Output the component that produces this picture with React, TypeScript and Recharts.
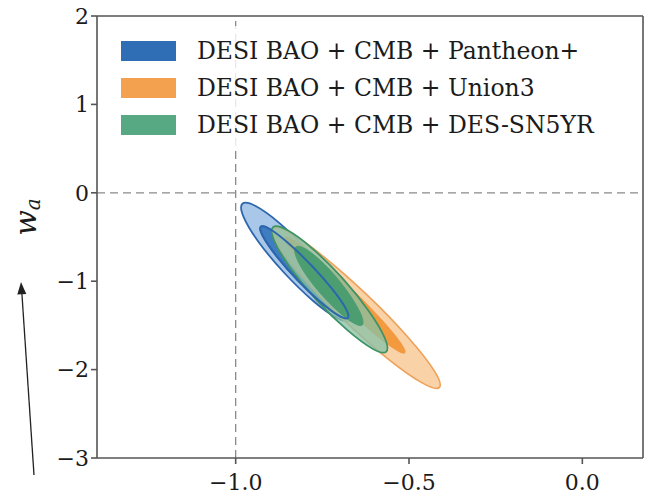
import React from 'react'
import { Label, Legend, ReferenceLine, Scatter, ScatterChart, XAxis, YAxis } from 'recharts'

type Pt = { x: number; y: number }

const xTicks = [-1.0, -0.5, 0.0]
const yTicks = [-3, -2, -1, 0, 1, 2]
const xDomain: [number, number] = [-1.4, 0.175]
const yDomain: [number, number] = [-3, 2]

const seriesNames = ['DESI BAO + CMB + Pantheon+', 'DESI BAO + CMB + Union3', 'DESI BAO + CMB + DES-SN5YR']
const seriesColors = ['#2f6eb5', '#f3a04f', '#57a983']

// contour outlines (w0, wa), 95% then 68%
const pantheonOuter: Pt[] = [
  { x: -0.662, y: -1.473 }, { x: -0.702, y: -1.446 }, { x: -0.775, y: -1.241 }, { x: -0.861, y: -0.913 },
  { x: -0.938, y: -0.551 }, { x: -0.984, y: -0.25 }, { x: -0.988, y: -0.093 }, { x: -0.948, y: -0.12 },
  { x: -0.875, y: -0.325 }, { x: -0.789, y: -0.653 }, { x: -0.712, y: -1.015 }, { x: -0.666, y: -1.316 }
]
const pantheonInner: Pt[] = [
  { x: -0.671, y: -1.439 }, { x: -0.699, y: -1.41 }, { x: -0.755, y: -1.244 }, { x: -0.823, y: -0.99 },
  { x: -0.885, y: -0.713 }, { x: -0.926, y: -0.479 }, { x: -0.934, y: -0.36 }, { x: -0.904, y: -0.39 },
  { x: -0.846, y: -0.57 }, { x: -0.779, y: -0.825 }, { x: -0.717, y: -1.102 }, { x: -0.677, y: -1.326 }
]
const union3Outer: Pt[] = [
  { x: -0.401, y: -2.244 }, { x: -0.453, y: -2.19 }, { x: -0.559, y: -1.896 }, { x: -0.692, y: -1.439 },
  { x: -0.812, y: -0.953 }, { x: -0.888, y: -0.56 }, { x: -0.902, y: -0.365 }, { x: -0.852, y: -0.41 },
  { x: -0.753, y: -0.688 }, { x: -0.62, y: -1.145 }, { x: -0.498, y: -1.64 }, { x: -0.417, y: -2.043 }
]
const union3Inner: Pt[] = [
  { x: -0.504, y: -1.841 }, { x: -0.538, y: -1.787 }, { x: -0.611, y: -1.565 }, { x: -0.704, y: -1.233 },
  { x: -0.792, y: -0.881 }, { x: -0.851, y: -0.602 }, { x: -0.866, y: -0.472 }, { x: -0.832, y: -0.525 },
  { x: -0.759, y: -0.747 }, { x: -0.666, y: -1.079 }, { x: -0.578, y: -1.432 }, { x: -0.519, y: -1.71 }
]
const desOuter: Pt[] = [
  { x: -0.559, y: -1.833 }, { x: -0.599, y: -1.794 }, { x: -0.676, y: -1.572 }, { x: -0.768, y: -1.222 },
  { x: -0.848, y: -0.836 }, { x: -0.896, y: -0.52 }, { x: -0.9, y: -0.355 }, { x: -0.857, y: -0.39 },
  { x: -0.78, y: -0.612 }, { x: -0.689, y: -0.966 }, { x: -0.61, y: -1.353 }, { x: -0.562, y: -1.672 }
]
const desInner: Pt[] = [
  { x: -0.631, y: -1.517 }, { x: -0.656, y: -1.493 }, { x: -0.703, y: -1.355 }, { x: -0.758, y: -1.136 },
  { x: -0.805, y: -0.895 }, { x: -0.831, y: -0.695 }, { x: -0.831, y: -0.592 }, { x: -0.803, y: -0.612 },
  { x: -0.757, y: -0.751 }, { x: -0.704, y: -0.972 }, { x: -0.659, y: -1.216 }, { x: -0.632, y: -1.414 }
]

const layers = [
  { key: 'p95', data: pantheonOuter, fill: '#a9c7e8', opacity: 1, stroke: '#2c66ac', width: 1.8 },
  { key: 'p68', data: pantheonInner, fill: '#3f7dc2', opacity: 1, stroke: '#2c66ac', width: 1.8 },
  { key: 'u95', data: union3Outer, fill: '#f8c38b', opacity: 0.75, stroke: '#eea159', width: 1.6 },
  { key: 'u68', data: union3Inner, fill: '#f39a3e', opacity: 1, stroke: '#f09843', width: 1 },
  { key: 'd95', data: desOuter, fill: '#86c2a8', opacity: 0.75, stroke: '#3f9364', width: 1.8 },
  { key: 'd68', data: desInner, fill: '#4c9e71', opacity: 1, stroke: '#4c9e71', width: 1 },
  { key: 'p68line', data: pantheonInner, fill: 'none', opacity: 1, stroke: '#2c66ac', width: 2 }
]

const font = '"DejaVu Serif", serif'
const minus = (v: number, digits: number) => v.toFixed(digits).replace('-', '\u2212')
const noDot = () => null

const renderLegend = () => (
  <div style={{ background: 'rgba(255,255,255,0.8)', width: 516, height: 122, borderRadius: 4, paddingTop: 6, boxSizing: 'border-box' }}>
    {seriesNames.map((name, i) => (
      <div key={name} style={{ display: 'flex', alignItems: 'center', height: 37, paddingLeft: 15 }}>
        <span style={{ display: 'inline-block', width: 55, height: 20, background: seriesColors[i] }} />
        <span style={{ marginLeft: 21, fontFamily: font, fontSize: 23.5, color: '#1b1b1b', whiteSpace: 'nowrap' }}>{name}</span>
      </div>
    ))}
  </div>
)

const renderYLabel = () => (
  <text x={36} y={217} transform="rotate(-90 36 217)" textAnchor="middle" fontFamily={font} fill="#1b1b1b">
    <tspan fontStyle="italic" fontSize={30}>w</tspan>
    <tspan fontStyle="italic" fontSize={20} dy={4}>a</tspan>
  </text>
)

export default function App() {
  return (
    <div style={{ position: 'absolute', left: 0, top: 0, width: 646, height: 494, background: '#fff' }}>
      <ScatterChart width={646} height={494} margin={{ top: 16, right: 3, bottom: 0, left: 0 }}>
        <XAxis
          type="number"
          dataKey="x"
          domain={xDomain}
          allowDataOverflow
          ticks={xTicks}
          tickFormatter={(v: number) => minus(v, 1)}
          height={36}
          tickSize={6}
          tickMargin={10}
          stroke="#555"
          strokeWidth={1.6}
          tick={{ fill: '#1b1b1b', fontSize: 22, fontFamily: font }}
        />
        <YAxis
          type="number"
          dataKey="y"
          domain={yDomain}
          allowDataOverflow
          ticks={yTicks}
          tickFormatter={(v: number) => minus(v, 0)}
          width={97}
          tickSize={6}
          tickMargin={2}
          stroke="#555"
          strokeWidth={1.6}
          tick={{ fill: '#1b1b1b', fontSize: 22, fontFamily: font }}
        >
          <Label content={renderYLabel} />
        </YAxis>
        <ReferenceLine y={2} stroke="#555" strokeWidth={1.6} />
        <ReferenceLine x={xDomain[1]} stroke="#555" strokeWidth={1.6} />
        <ReferenceLine x={-1} stroke="#8a8a8a" strokeWidth={1.3} strokeDasharray="8 5" />
        <ReferenceLine y={0} stroke="#8a8a8a" strokeWidth={1.3} strokeDasharray="8 5" />
        {layers.map((l) => (
          <Scatter
            key={l.key}
            data={l.data}
            shape={noDot}
            line={{ fill: l.fill, fillOpacity: l.opacity, stroke: l.stroke, strokeWidth: l.width }}
            lineJointType="basisClosed"
            legendType="none"
            isAnimationActive={false}
          />
        ))}
        <Legend
          content={renderLegend}
          layout="vertical"
          align="center"
          verticalAlign="middle"
          wrapperStyle={{ left: 106, top: 26, width: 516, height: 122 }}
        />
      </ScatterChart>
      <svg width={646} height={494} style={{ position: 'absolute', left: 0, top: 0, pointerEvents: 'none' }}>
        <line x1={34} y1={475} x2={21.8} y2={292} stroke="#222" strokeWidth={1.3} />
        <polygon points="21,282 26.3,294 17.3,294.5" fill="#222" />
      </svg>
    </div>
  )
}
